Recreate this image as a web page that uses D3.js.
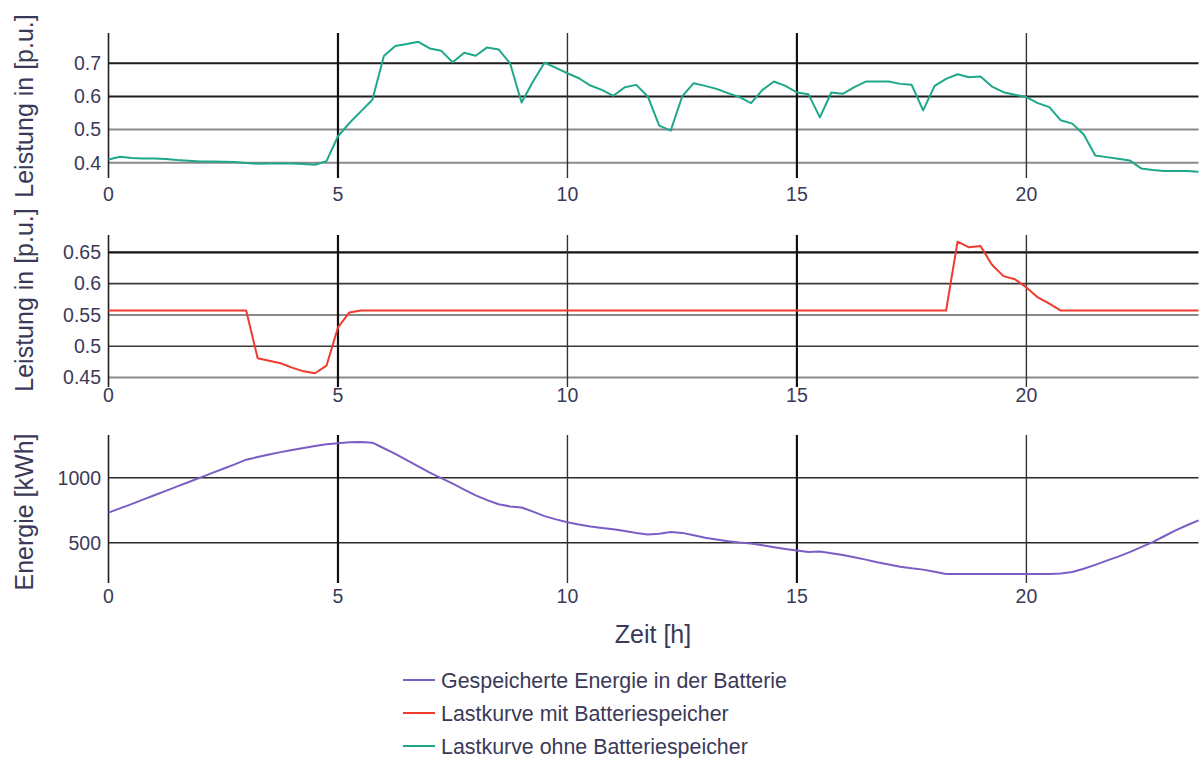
<!DOCTYPE html>
<html>
<head>
<meta charset="utf-8">
<script src="https://cdn.jsdelivr.net/npm/d3@7"></script>
<style>
  html, body { margin: 0; padding: 0; background: #ffffff; }
  svg { display: block; font-family: "Liberation Sans", Arial, sans-serif; }
</style>
</head>
<body>
<svg id="chart" width="1202" height="758"></svg>
<script>
// Quarter-hour time stamps, 0 .. 23.75 h
const hours = d3.range(0, 24, 0.25);

// Load curve without battery storage [p.u.]
const loadWithout = [
  0.410, 0.418, 0.414, 0.413, 0.413, 0.411, 0.408, 0.406, 0.404, 0.404, 0.403, 0.402,
  0.399, 0.397, 0.398, 0.398, 0.398, 0.396, 0.394, 0.405, 0.480, 0.520, 0.555, 0.590,
  0.722, 0.752, 0.758, 0.765, 0.745, 0.738, 0.703, 0.732, 0.723, 0.748, 0.742, 0.700,
  0.582, 0.645, 0.702, 0.686, 0.670, 0.655, 0.633, 0.620, 0.602, 0.628, 0.635, 0.600,
  0.512, 0.497, 0.600, 0.640, 0.632, 0.623, 0.610, 0.598, 0.580, 0.620, 0.645, 0.632,
  0.612, 0.607, 0.537, 0.612, 0.608, 0.628, 0.645, 0.645, 0.645, 0.638, 0.635, 0.558,
  0.632, 0.653, 0.667, 0.658, 0.660, 0.630, 0.613, 0.605, 0.598, 0.580, 0.568, 0.528,
  0.518, 0.485, 0.422, 0.417, 0.412, 0.407, 0.383, 0.378, 0.375, 0.375, 0.375, 0.373
];

// Load curve with battery storage [p.u.]
const loadWith = [
  0.557, 0.557, 0.557, 0.557, 0.557, 0.557, 0.557, 0.557, 0.557, 0.557, 0.557, 0.557,
  0.557, 0.481, 0.477, 0.473, 0.466, 0.460, 0.457, 0.469, 0.530, 0.554, 0.557, 0.557,
  0.557, 0.557, 0.557, 0.557, 0.557, 0.557, 0.557, 0.557, 0.557, 0.557, 0.557, 0.557,
  0.557, 0.557, 0.557, 0.557, 0.557, 0.557, 0.557, 0.557, 0.557, 0.557, 0.557, 0.557,
  0.557, 0.557, 0.557, 0.557, 0.557, 0.557, 0.557, 0.557, 0.557, 0.557, 0.557, 0.557,
  0.557, 0.557, 0.557, 0.557, 0.557, 0.557, 0.557, 0.557, 0.557, 0.557, 0.557, 0.557,
  0.557, 0.557, 0.667, 0.658, 0.660, 0.630, 0.612, 0.607, 0.594, 0.578, 0.568, 0.557,
  0.557, 0.557, 0.557, 0.557, 0.557, 0.557, 0.557, 0.557, 0.557, 0.557, 0.557, 0.557
];

// Energy stored in the battery [kWh]
const storedEnergy = [
  732, 765, 798, 832, 866, 900, 934, 968, 1002, 1036, 1070, 1104,
  1140, 1160, 1180, 1198, 1214, 1230, 1245, 1258, 1267, 1275, 1276, 1271,
  1228, 1185, 1137, 1089, 1040, 998, 955, 910, 865, 828, 797, 780,
  772, 740, 705, 680, 658, 640, 625, 614, 604, 590, 575, 563,
  570, 582, 576, 558, 538, 525, 512, 502, 494, 480, 465, 452,
  441, 428, 433, 420, 405, 388, 370, 350, 333, 315, 303, 293,
  276, 260, 260, 260, 260, 260, 260, 260, 260, 260, 260, 263,
  275, 300, 330, 362, 393, 428, 466, 505, 550, 595, 635, 673
];

const xTicks = [0, 5, 10, 15, 20];
const yTicksTop = [0.4, 0.5, 0.6, 0.7];
const yTicksMid = [0.45, 0.5, 0.55, 0.6, 0.65];
const yTicksBottom = [500, 1000];

const seriesNames = [
  "Gespeicherte Energie in der Batterie",
  "Lastkurve mit Batteriespeicher",
  "Lastkurve ohne Batteriespeicher"
];
const seriesColors = ["#7b5ec4", "#f03a2e", "#1ea78a"];

const textColor = "#3a3a58";
const svg = d3.select("#chart");

const x = d3.scaleLinear().domain([0, 23.75]).range([108.5, 1198.5]);

// Grid line emphasis for each panel, following the printed figure
const panels = [
  {
    title: "Leistung in [p.u.]", values: loadWithout, color: seriesColors[2],
    y: d3.scaleLinear().domain([0.354, 0.7915]).range([178, 33]),
    ticks: yTicksTop,
    gridStyle: { 0.4: ["#8a8a8a", 2], 0.5: ["#8a8a8a", 2], 0.6: ["#1e1e1e", 2], 0.7: ["#1e1e1e", 2] },
    xLabelY: 201, titleY: 106
  },
  {
    title: "Leistung in [p.u.]", values: loadWith, color: seriesColors[1],
    y: d3.scaleLinear().domain([0.435, 0.6776]).range([387, 235]),
    ticks: yTicksMid,
    gridStyle: { 0.45: ["#8a8a8a", 2], 0.5: ["#3a3a3a", 1.6], 0.55: ["#8a8a8a", 2], 0.6: ["#3a3a3a", 1.6], 0.65: ["#111111", 2.2] },
    xLabelY: 402, titleY: 300
  },
  {
    title: "Energie [kWh]", values: storedEnergy, color: seriesColors[0],
    y: d3.scaleLinear().domain([190, 1330]).range([583, 435]),
    ticks: yTicksBottom,
    gridStyle: { 500: ["#2a2a2a", 1.5], 1000: ["#2a2a2a", 1.5] },
    xLabelY: 603, titleY: 512
  }
];

const vStyle = { 0: ["#1e1e1e", 1.6], 5: ["#111111", 2.2], 10: ["#333333", 1.4], 15: ["#111111", 2.2], 20: ["#333333", 1.4] };

panels.forEach(p => {
  const g = svg.append("g");
  const [yBottom, yTop] = p.y.range();

  // horizontal grid lines
  g.selectAll("line.h").data(p.ticks).join("line")
    .attr("class", "h")
    .attr("x1", x(0)).attr("x2", x(23.75))
    .attr("y1", d => p.y(d)).attr("y2", d => p.y(d))
    .attr("stroke", d => p.gridStyle[d][0])
    .attr("stroke-width", d => p.gridStyle[d][1]);

  // vertical grid lines (x = 0 doubles as the y axis line)
  g.selectAll("line.v").data(xTicks).join("line")
    .attr("class", "v")
    .attr("x1", d => x(d)).attr("x2", d => x(d))
    .attr("y1", yTop).attr("y2", yBottom)
    .attr("stroke", d => vStyle[d][0])
    .attr("stroke-width", d => vStyle[d][1]);

  // y tick labels
  g.selectAll("text.yt").data(p.ticks).join("text")
    .attr("class", "yt")
    .attr("x", 101).attr("y", d => p.y(d))
    .attr("dy", "0.35em")
    .attr("text-anchor", "end")
    .attr("font-size", 19.5)
    .attr("fill", textColor)
    .text(d => String(d));

  // x tick labels
  g.selectAll("text.xt").data(xTicks).join("text")
    .attr("class", "xt")
    .attr("x", d => x(d)).attr("y", p.xLabelY)
    .attr("text-anchor", "middle")
    .attr("font-size", 19.5)
    .attr("fill", textColor)
    .text(d => d);

  // y axis title
  g.append("text")
    .attr("transform", `translate(33,${p.titleY}) rotate(-90)`)
    .attr("text-anchor", "middle")
    .attr("font-size", 25)
    .attr("fill", textColor)
    .text(p.title);

  // data line
  const line = d3.line().x((d, i) => x(hours[i])).y(d => p.y(d));
  g.append("path")
    .datum(p.values)
    .attr("d", line)
    .attr("fill", "none")
    .attr("stroke", p.color)
    .attr("stroke-width", 2)
    .attr("stroke-linejoin", "round");
});

// x axis title
svg.append("text")
  .attr("x", 653).attr("y", 643)
  .attr("text-anchor", "middle")
  .attr("font-size", 25)
  .attr("fill", textColor)
  .text("Zeit [h]");

// legend
const legend = svg.append("g");
const rows = legend.selectAll("g").data(seriesNames).join("g")
  .attr("transform", (d, i) => `translate(0,${680 + i * 33})`);
rows.append("line")
  .attr("x1", 403).attr("x2", 435)
  .attr("y1", 0).attr("y2", 0)
  .attr("stroke", (d, i) => seriesColors[i])
  .attr("stroke-width", 2);
rows.append("text")
  .attr("x", 441).attr("y", 0)
  .attr("dy", "0.35em")
  .attr("font-size", 21.4)
  .attr("fill", textColor)
  .text(d => d);
</script>
</body>
</html>
